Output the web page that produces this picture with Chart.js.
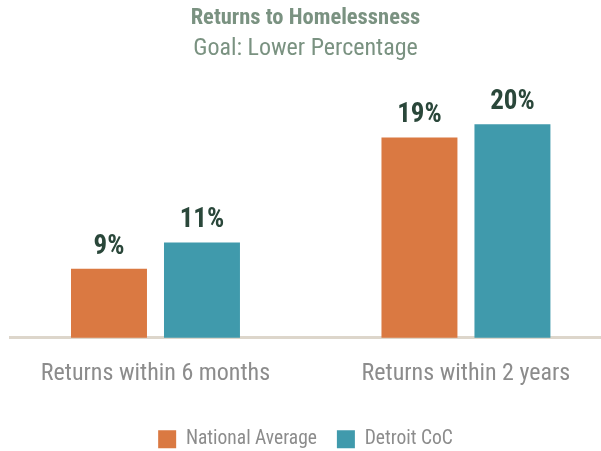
<!DOCTYPE html>
<html>
<head>
<meta charset="utf-8">
<script src="https://cdn.jsdelivr.net/npm/chart.js@4"></script>
<style>
  html, body { margin: 0; padding: 0; background: #ffffff; }
  #wrap { width: 601px; height: 451px; position: relative; }
</style>
</head>
<body>
<div id="wrap"><canvas id="c" width="601" height="451"></canvas></div>
<script>
const categories = ["Returns within 6 months", "Returns within 2 years"];
const seriesNames = ["National Average", "Detroit CoC"];
const nationalAverage = [9, 19];
const detroitCoC = [11, 20];
const titleText = "Returns to Homelessness";
const subtitleText = "Goal: Lower Percentage";

const FONT = "'Liberation Sans Narrow', 'Roboto Condensed', 'DejaVu Sans Condensed', 'Liberation Sans', sans-serif";
const COLORS = ["#da7942", "#409aac"];
const Y_MIN = 3.74;
const PX_PER_UNIT = 13.127;

const valueLabels = {
  id: 'valueLabels',
  afterDatasetsDraw(chart) {
    const ctx = chart.ctx;
    ctx.save();
    ctx.font = "bold 27px " + FONT;
    ctx.fillStyle = "#2a473a";
    ctx.textAlign = "center";
    ctx.textBaseline = "alphabetic";
    chart.data.datasets.forEach((ds, di) => {
      chart.getDatasetMeta(di).data.forEach((bar, i) => {
        ctx.fillText(ds.data[i].y + "%", bar.x, bar.y - 15);
      });
    });
    ctx.restore();
  }
};

const toPoints = arr => arr.map((v, i) => ({ x: i, y: v }));

const chart = new Chart(document.getElementById('c'), {
  type: 'bar',
  data: {
    datasets: [
      { label: seriesNames[0], data: toPoints(nationalAverage), backgroundColor: COLORS[0], borderWidth: 0 },
      { label: seriesNames[1], data: toPoints(detroitCoC), backgroundColor: COLORS[1], borderWidth: 0 }
    ]
  },
  options: {
    responsive: false,
    animation: false,
    categoryPercentage: 0.599,
    barPercentage: 0.817,
    layout: { padding: { left: 10, right: 0, top: 0, bottom: -8 } },
    plugins: {
      title: {
        display: true, text: titleText, color: "#7a9281",
        font: { family: FONT, size: 22.5, weight: 'bold' },
        padding: { top: 5, bottom: 3 }
      },
      subtitle: {
        display: true, text: subtitleText, color: "#7a9281",
        font: { family: FONT, size: 24 },
        padding: { top: 0, bottom: 10 }
      },
      legend: {
        position: 'bottom',
        labels: {
          boxWidth: 18, boxHeight: 18, padding: 20,
          color: "#8c8c8c", font: { family: FONT, size: 19.5 }
        }
      },
      tooltip: { enabled: false }
    },
    scales: {
      x: {
        type: 'linear',
        min: -0.4686, max: 1.435,
        offset: false,
        afterBuildTicks: (scale) => { scale.ticks = categories.map((c, i) => ({ value: i })); },
        afterFit: (scale) => { scale.height -= 1; },
        ticks: {
          callback: (v) => categories[v],
          color: "#8c8c8c", font: { family: FONT, size: 24 },
          padding: 22, maxRotation: 0, autoSkip: false
        },
        grid: { display: false, drawTicks: false },
        border: { display: true, color: "#ddd6cb", width: 3 }
      },
      y: {
        display: false,
        min: Y_MIN, max: 23.93
      }
    }
  },
  plugins: [valueLabels]
});

// keep a fixed pixels-per-percent scale, derived from the laid-out chart area
const area = chart.chartArea;
chart.options.scales.y.max = Y_MIN + (area.bottom - area.top) / PX_PER_UNIT;
chart.update();
</script>
</body>
</html>
